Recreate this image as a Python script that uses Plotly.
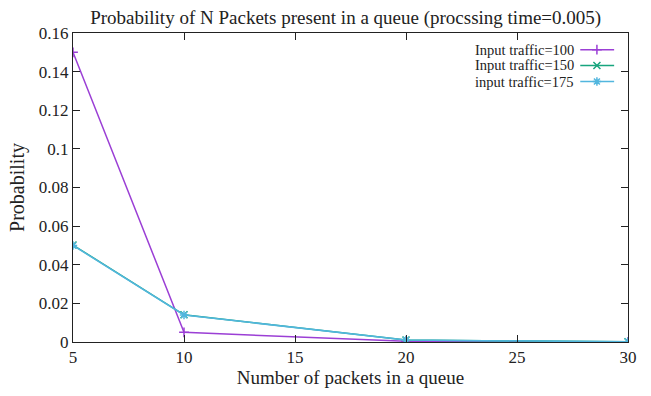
import plotly.graph_objects as go

packets = [5, 10, 20, 30]
traffic_100 = [0.15, 0.005, 0.0004, 0.0]
traffic_150 = [0.0502, 0.0141, 0.0010, 0.0001]
traffic_175 = [0.050, 0.014, 0.0010, 0.0001]
series_names = ["Input traffic=100", "Input traffic=150", "input traffic=175"]
x_ticks = [5, 10, 15, 20, 25, 30]
y_ticks = [0, 0.02, 0.04, 0.06, 0.08, 0.1, 0.12, 0.14, 0.16]

colors = ["#9b3fd5", "#17a57e", "#52b6de"]
symbols = ["cross-thin-open", "x-thin-open", "asterisk-open"]
FONT = "Liberation Serif, Times New Roman, serif"
TXT = "#222222"

fig = go.Figure()
for ys, name, c, s in zip([traffic_100, traffic_150, traffic_175], series_names, colors, symbols):
    fig.add_trace(go.Scatter(
        x=packets, y=ys, mode="lines+markers", name=name,
        line=dict(color=c, width=1.5),
        marker=dict(symbol=s, size=7, color=c, line=dict(color=c, width=1.5)),
        showlegend=False,
    ))

# manual gnuplot-style legend (text left, sample right) on a hidden overlay axis
legend_rows = [0.946, 0.895, 0.843]
sample_x = [0.914, 0.975]
marker_x = [0.944]
text_x = 0.906
for name, c, s, ry in zip(series_names, colors, symbols, legend_rows):
    fig.add_trace(go.Scatter(
        x=sample_x, y=[ry, ry], mode="lines", xaxis="x2", yaxis="y2",
        line=dict(color=c, width=1.5), showlegend=False, hoverinfo="skip"))
    fig.add_trace(go.Scatter(
        x=marker_x, y=[ry], mode="markers", xaxis="x2", yaxis="y2",
        marker=dict(symbol=s, size=7, color=c, line=dict(color=c, width=1.5)),
        showlegend=False, hoverinfo="skip"))
    fig.add_annotation(x=text_x, y=ry, xref="x2", yref="y2", text=name,
                       showarrow=False, xanchor="right", yanchor="middle",
                       font=dict(family=FONT, size=14.5, color=TXT))

axis_common = dict(showgrid=False, zeroline=False, showline=True, linecolor=TXT,
                   linewidth=1, mirror="allticks", ticks="inside", ticklen=7,
                   tickcolor=TXT, tickfont=dict(family=FONT, size=17, color=TXT))

fig.update_layout(
    width=651, height=396,
    margin=dict(l=73, r=23, t=33, b=50),
    paper_bgcolor="white", plot_bgcolor="white",
    title=dict(text="Probability of N Packets present in a queue (procssing time=0.005)",
               x=0.531, xanchor="center", y=0.957, yanchor="middle",
               font=dict(family=FONT, size=19, color=TXT)),
    xaxis=dict(range=[5, 30], tickvals=x_ticks,
               title=dict(text="Number of packets in a queue", standoff=3,
                          font=dict(family=FONT, size=19, color=TXT)),
               **axis_common),
    yaxis=dict(range=[0, 0.16], tickvals=y_ticks,
               ticktext=[("%g" % v) for v in y_ticks],
               title=dict(text="Probability", standoff=8,
                          font=dict(family=FONT, size=20, color=TXT)),
               **axis_common),
    xaxis2=dict(range=[0, 1], overlaying="x", visible=False, fixedrange=True),
    yaxis2=dict(range=[0, 1], overlaying="y", visible=False, fixedrange=True),
    showlegend=False,
)

fig.write_html("out.html", config={"displayModeBar": False},
               post_script="document.body.style.margin='0';")
